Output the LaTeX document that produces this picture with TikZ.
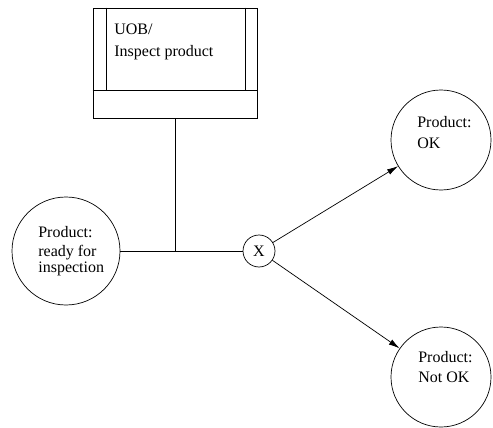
\documentclass[tikz,border=0pt]{standalone}
\usepackage{fontspec}
\setmainfont{Liberation Serif}
\usetikzlibrary{arrows.meta}
\begin{document}
\begin{tikzpicture}[x=1pt,y=-1pt,
  every path/.style={line width=0.7pt},
  state/.style={draw,circle,inner sep=0pt},
  txt/.style={anchor=base west,inner sep=0pt,font=\fontsize{16}{18}\selectfont},
  flow/.style={-{Latex[length=11pt,width=6pt]}}]
\useasboundingbox (0,0) rectangle (493,428);
% function box with side bars and lower strip
\node[draw,rectangle,minimum width=164pt,minimum height=110pt,inner sep=0pt] (box) at (175,63) {};
\draw (box.north west) ++(14,0) coordinate (bl1) -- ++(0,83) coordinate (bl2);
\draw (box.north east) ++(-12,0) coordinate (br1) -- ++(0,83) coordinate (br2);
\draw ([yshift=-83pt]box.north west) -- ([yshift=-83pt]box.north east);
\node[txt] (t1) at (114,35) {UOB/};
\node[txt] (t2) at (114,57) {Inspect product};
% events
\node[state,minimum size=108pt] (ready) at (66,251) {};
\node[txt] (r1) at (38,237) {Product:};
\node[txt] (r2) at (38,256) {ready for};
\node[txt] (r3) at (38,272) {inspection};
\node[state,minimum size=32pt,font=\fontsize{16}{18}\selectfont] (xor) at (259,251) {X};
\node[state,minimum size=100pt] (ok) at (441,140) {};
\node[txt] (o1) at (417,128) {Product:};
\node[txt] (o2) at (417,148) {OK};
\node[state,minimum size=100pt] (nok) at (441,377) {};
\node[txt] (n1) at (418,362) {Product:};
\node[txt] (n2) at (418,382) {Not OK};
% connectors
\coordinate (j) at (box.south |- ready.east);
\draw (ready.east) -- (xor.west);
\draw (box.south) -- (j);
\draw[flow] (xor) -- (ok);
\draw[flow] (xor) -- (nok);
\end{tikzpicture}
\end{document}
